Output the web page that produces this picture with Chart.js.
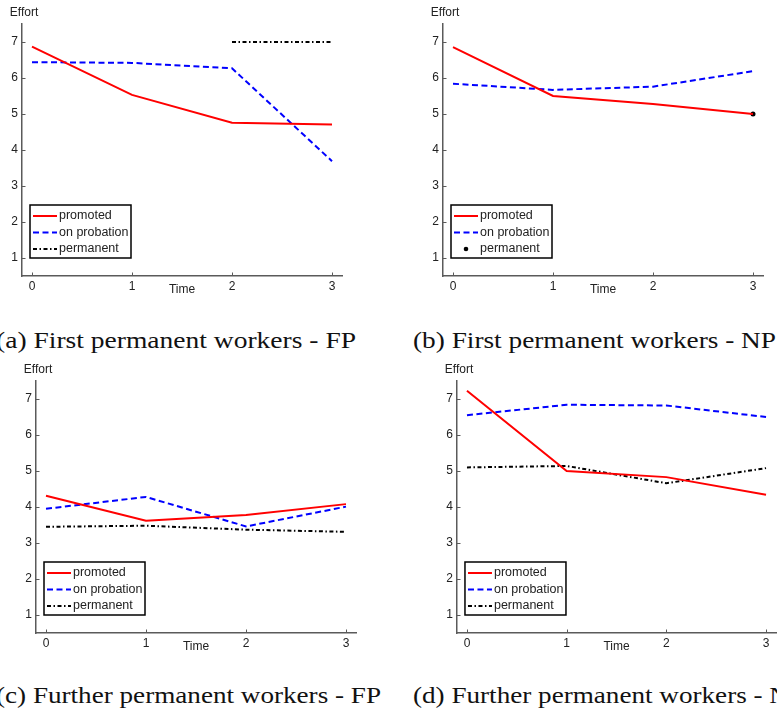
<!DOCTYPE html>
<html><head><meta charset="utf-8">
<script src="https://cdn.jsdelivr.net/npm/chart.js@4/dist/chart.umd.min.js"></script>
<style>
html,body{margin:0;padding:0;background:#fff;width:777px;height:711px;overflow:hidden;position:relative}
.panel{position:absolute;width:390px;height:300px}
.cap{position:absolute;font-family:'Liberation Serif','Times New Roman',serif;font-size:24px;line-height:24px;color:#111;white-space:nowrap;transform-origin:0 50%}
</style></head><body>
<div class="panel" style="left:0;top:0"><canvas id="ca" width="390" height="300"></canvas></div>
<div class="panel" style="left:390px;top:0"><canvas id="cb" width="390" height="300"></canvas></div>
<div class="panel" style="left:0;top:355px"><canvas id="cc" width="390" height="300"></canvas></div>
<div class="panel" style="left:390px;top:355px"><canvas id="cd" width="390" height="300"></canvas></div>
<div class="cap" id="capA" style="left:-4px;top:328px">(a) First permanent workers - FP</div>
<div class="cap" id="capB" style="left:413px;top:328px">(b) First permanent workers - NP</div>
<div class="cap" id="capC" style="left:-4px;top:683px">(c) Further permanent workers - FP</div>
<div class="cap" id="capD" style="left:413px;top:683px">(d) Further permanent workers - NP</div>
<script>
// ---- data ----
const timePoints = [0, 1, 2, 3];
const effortTicks = [1, 2, 3, 4, 5, 6, 7];
const seriesNames = ['promoted', 'on probation', 'permanent'];
const yTitle = 'Effort';
const xTitle = 'Time';

const promotedA  = [6.87, 5.53, 4.76, 4.71];
const probationA = [6.44, 6.42, 6.27, 3.69];
const permanentA = [null, null, 7.00, 7.00];

const promotedB  = [6.86, 5.50, 5.28, 5.00];
const probationB = [5.84, 5.67, 5.76, 6.19];
const permanentB = [null, null, null, 5.00];

const promotedC  = [4.31, 3.62, 3.78, 4.08];
const probationC = [3.95, 4.28, 3.46, 4.01];
const permanentC = [3.45, 3.48, 3.37, 3.31];

const promotedD  = [7.23, 5.00, 4.83, 4.34];
const probationD = [6.55, 6.84, 6.82, 6.50];
const permanentD = [5.10, 5.14, 4.66, 5.08];

// ---- styling / layout ----
const axisColor = '#5a5a5a';
const sansFont = "'Liberation Sans', Arial, Helvetica, sans-serif";

const decor = {
  id: 'decor',
  afterDraw(chart) {
    const {ctx, chartArea: a, scales: {x, y}} = chart;
    ctx.save();
    ctx.strokeStyle = axisColor; ctx.lineWidth = 1; ctx.setLineDash([]);
    x.ticks.forEach(t => { const px = Math.round(x.getPixelForValue(t.value)) + 0.5;
      ctx.beginPath(); ctx.moveTo(px, a.bottom); ctx.lineTo(px, a.bottom - 3.5); ctx.stroke(); });
    y.ticks.forEach(t => { const py = Math.round(y.getPixelForValue(t.value)) + 0.5;
      ctx.beginPath(); ctx.moveTo(a.left, py); ctx.lineTo(a.left + 3.5, py); ctx.stroke(); });
    ctx.fillStyle = '#222';
    ctx.font = '12px ' + sansFont;
    ctx.textAlign = 'center'; ctx.textBaseline = 'middle';
    ctx.fillText(yTitle, a.left + 2, a.top - 11);
    ctx.fillText(xTitle, (a.left + a.right) / 2, a.bottom + 14);
    // legend box (south-west)
    const bw = 101, bh = 53;
    const bx = x.getPixelForValue(0) - 2;
    const by = y.getPixelForValue(1) - bh;
    ctx.fillStyle = '#fff'; ctx.fillRect(bx, by, bw, bh);
    ctx.strokeStyle = '#000'; ctx.lineWidth = 1.5; ctx.strokeRect(bx, by, bw, bh);
    ctx.font = '12.5px ' + sansFont; ctx.textAlign = 'left';
    chart.data.datasets.forEach((ds, i) => {
      const ry = by + 11 + i * 16.5;
      if (ds.showLine === false) {
        ctx.fillStyle = ds.pointBackgroundColor;
        ctx.beginPath(); ctx.arc(bx + 15, ry, 2.3, 0, Math.PI * 2); ctx.fill();
      } else {
        ctx.strokeStyle = ds.borderColor; ctx.lineWidth = ds.borderWidth;
        ctx.setLineDash(ds.borderDash || []);
        ctx.beginPath(); ctx.moveTo(bx + 3, ry); ctx.lineTo(bx + 27, ry); ctx.stroke();
        ctx.setLineDash([]);
      }
      ctx.fillStyle = '#222';
      ctx.fillText(ds.label, bx + 29, ry);
    });
    ctx.restore();
  }
};

function pts(vals) { return timePoints.map((t, i) => ({x: t, y: vals[i]})); }

function makeChart(id, area, prom, prob, perm, permAsDot) {
  const W = 390, H = 300;
  const datasets = [
    {label: seriesNames[0], data: pts(prom), borderColor: '#ff0000', borderWidth: 2, pointRadius: 0, fill: false, tension: 0},
    {label: seriesNames[1], data: pts(prob), borderColor: '#0000ff', borderWidth: 2, borderDash: [6, 3.5], pointRadius: 0, fill: false, tension: 0},
    permAsDot
      ? {label: seriesNames[2], data: pts(perm), showLine: false, pointRadius: 2.5, pointBackgroundColor: '#000', pointBorderColor: '#000', borderColor: '#000', pointBorderWidth: 0}
      : {label: seriesNames[2], data: pts(perm), borderColor: '#000', borderWidth: 2, borderDash: [4, 2.5, 1.5, 2.5], pointRadius: 0, fill: false, tension: 0, spanGaps: false}
  ];
  return new Chart(document.getElementById(id), {
    type: 'line',
    data: {datasets},
    options: {
      responsive: false, animation: false, devicePixelRatio: 1,
      layout: {padding: {left: 0, top: area.t, right: W - area.r, bottom: 0}},
      plugins: {legend: {display: false}, tooltip: {enabled: false}},
      scales: {
        x: {type: 'linear', min: -0.1, max: 3.1,
            afterBuildTicks: s => { s.ticks = timePoints.map(v => ({value: v})); },
            afterFit: s => { s.height = H - area.b; },
            grid: {display: true, drawOnChartArea: false, drawTicks: false},
            border: {display: true, color: axisColor, width: 1.5},
            ticks: {padding: 3, color: '#222', font: {size: 12, family: sansFont}, maxRotation: 0}},
        y: {type: 'linear', min: 0.5, max: 7.5,
            afterBuildTicks: s => { s.ticks = effortTicks.map(v => ({value: v})); },
            afterFit: s => { s.width = area.l; },
            grid: {display: true, drawOnChartArea: false, drawTicks: false},
            border: {display: true, color: axisColor, width: 1.5},
            ticks: {padding: 4, color: '#222', font: {size: 12, family: sansFont}}}
      }
    },
    plugins: [decor]
  });
}

makeChart('ca', {l: 22, r: 342, t: 24, b: 276}, promotedA, probationA, permanentA, false);
makeChart('cb', {l: 53, r: 373, t: 24, b: 276}, promotedB, probationB, permanentB, true);
makeChart('cc', {l: 36, r: 356, t: 26, b: 278}, promotedC, probationC, permanentC, false);
makeChart('cd', {l: 67, r: 386, t: 26, b: 278}, promotedD, probationD, permanentD, false);

// caption widths
const capWidths = {capA: 360, capB: 363, capC: 385};
let scaleC = 1;
Object.entries(capWidths).forEach(([id, w]) => {
  const el = document.getElementById(id);
  const s = w / el.getBoundingClientRect().width;
  el.style.transform = 'scaleX(' + s + ')';
  if (id === 'capC') scaleC = s;
});
document.getElementById('capD').style.transform = 'scaleX(' + scaleC + ')';
</script>
</body></html>
